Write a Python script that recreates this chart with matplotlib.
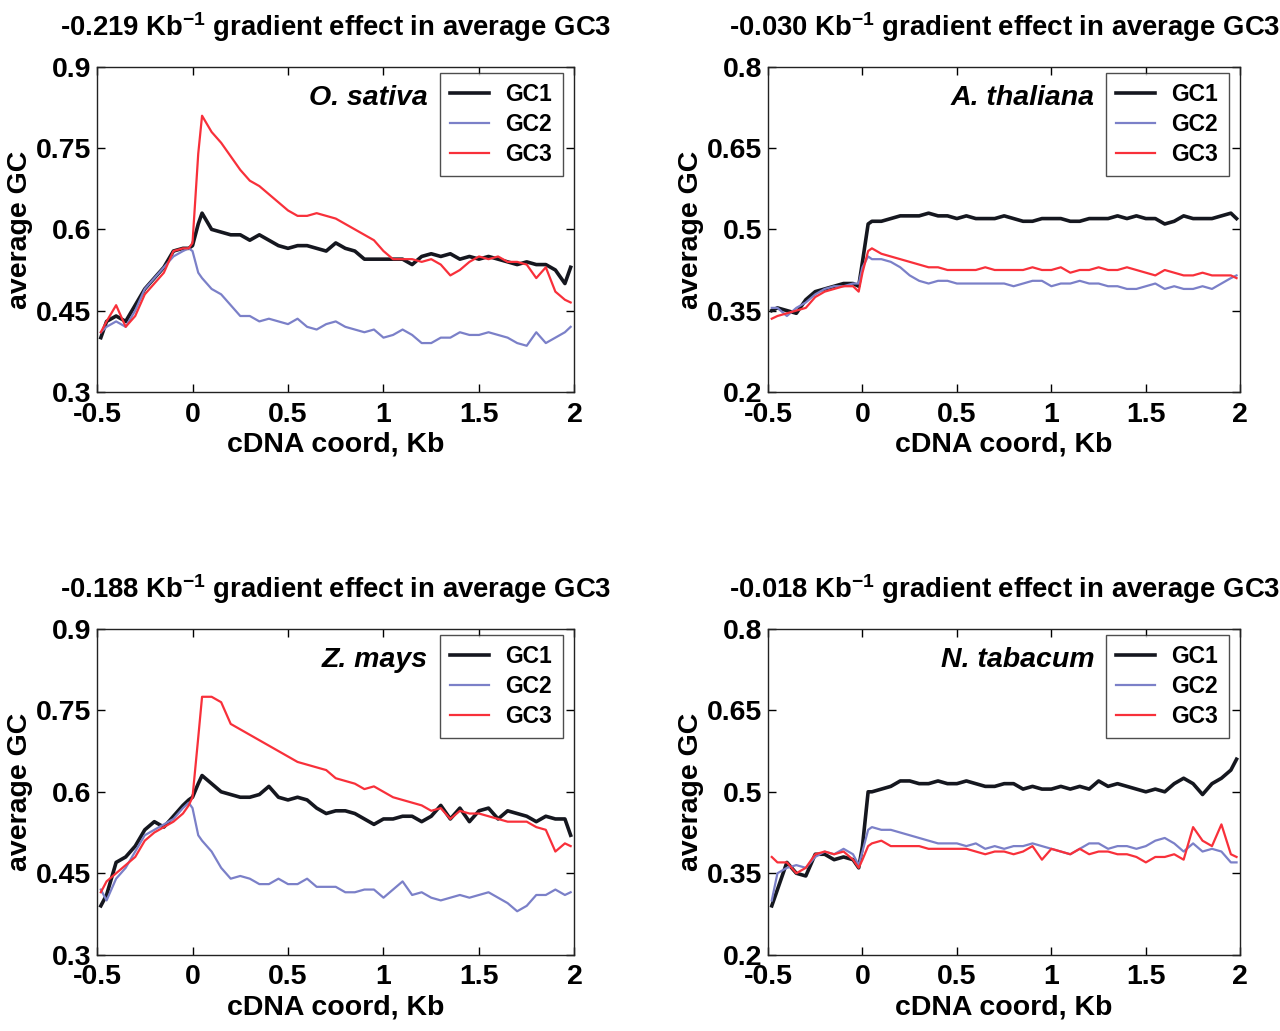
"""
Four-panel GC1/GC2/GC3 profile along cDNA coordinate, MATLAB-style look.
"""

import numpy as np
import matplotlib
matplotlib.use("Agg")
import matplotlib.pyplot as plt

plt.rcParams["font.family"] = ["Liberation Sans", "DejaVu Sans"]
plt.rcParams["font.weight"] = "bold"
plt.rcParams["mathtext.default"] = "regular"

# common x positions (Kb) at which the curves were read
X_KB = [-0.48, -0.45, -0.40, -0.35, -0.30, -0.25, -0.20, -0.15, -0.10, -0.05,
        -0.02, 0.00, 0.03, 0.05, 0.10, 0.15, 0.20, 0.25, 0.30, 0.35,
        0.40, 0.45, 0.50, 0.55, 0.60, 0.65, 0.70, 0.75, 0.80, 0.85,
        0.90, 0.95, 1.00, 1.05, 1.10, 1.15, 1.20, 1.25, 1.30, 1.35,
        1.40, 1.45, 1.50, 1.55, 1.60, 1.65, 1.70, 1.75, 1.80, 1.85,
        1.90, 1.95, 1.98]

# O. sativa
OS_GC1 = [0.40, 0.43, 0.44, 0.43, 0.46, 0.49, 0.51, 0.53, 0.56, 0.565,
          0.565, 0.57, 0.61, 0.63, 0.60, 0.595, 0.59, 0.59, 0.58, 0.59,
          0.58, 0.57, 0.565, 0.57, 0.57, 0.565, 0.56, 0.575, 0.565, 0.56,
          0.545, 0.545, 0.545, 0.545, 0.545, 0.535, 0.55, 0.555, 0.55, 0.555,
          0.545, 0.55, 0.545, 0.55, 0.545, 0.54, 0.535, 0.54, 0.535, 0.535,
          0.525, 0.50, 0.53]
OS_GC2 = [0.41, 0.42, 0.43, 0.42, 0.45, 0.49, 0.51, 0.53, 0.55, 0.56,
          0.565, 0.56, 0.52, 0.51, 0.49, 0.48, 0.46, 0.44, 0.44, 0.43,
          0.435, 0.43, 0.425, 0.435, 0.42, 0.415, 0.425, 0.43, 0.42, 0.415,
          0.41, 0.415, 0.40, 0.405, 0.415, 0.405, 0.39, 0.39, 0.40, 0.40,
          0.41, 0.405, 0.405, 0.41, 0.405, 0.40, 0.39, 0.385, 0.41, 0.39,
          0.40, 0.41, 0.42]
OS_GC3 = [0.41, 0.43, 0.46, 0.42, 0.44, 0.48, 0.50, 0.52, 0.56, 0.565,
          0.565, 0.575, 0.74, 0.81, 0.78, 0.76, 0.735, 0.71, 0.69, 0.68,
          0.665, 0.65, 0.635, 0.625, 0.625, 0.63, 0.625, 0.62, 0.61, 0.60,
          0.59, 0.58, 0.56, 0.545, 0.545, 0.545, 0.54, 0.545, 0.535, 0.515,
          0.525, 0.54, 0.55, 0.545, 0.55, 0.54, 0.54, 0.535, 0.51, 0.53,
          0.485, 0.47, 0.465]

# A. thaliana
AT_GC1 = [0.35, 0.355, 0.35, 0.345, 0.37, 0.385, 0.39, 0.395, 0.40, 0.40,
          0.395, 0.44, 0.51, 0.515, 0.515, 0.52, 0.525, 0.525, 0.525, 0.53,
          0.525, 0.525, 0.52, 0.525, 0.52, 0.52, 0.52, 0.525, 0.52, 0.515,
          0.515, 0.52, 0.52, 0.52, 0.515, 0.515, 0.52, 0.52, 0.52, 0.525,
          0.52, 0.525, 0.52, 0.52, 0.51, 0.515, 0.525, 0.52, 0.52, 0.52,
          0.525, 0.53, 0.52]
AT_GC2 = [0.355, 0.355, 0.34, 0.355, 0.365, 0.38, 0.39, 0.395, 0.395, 0.40,
          0.40, 0.43, 0.45, 0.445, 0.445, 0.44, 0.43, 0.415, 0.405, 0.40,
          0.405, 0.405, 0.40, 0.40, 0.40, 0.40, 0.40, 0.40, 0.395, 0.40,
          0.405, 0.405, 0.395, 0.40, 0.40, 0.405, 0.40, 0.40, 0.395, 0.395,
          0.39, 0.39, 0.395, 0.40, 0.39, 0.395, 0.39, 0.39, 0.395, 0.39,
          0.40, 0.41, 0.415]
AT_GC3 = [0.335, 0.34, 0.345, 0.35, 0.355, 0.375, 0.385, 0.39, 0.395, 0.395,
          0.385, 0.42, 0.46, 0.465, 0.455, 0.45, 0.445, 0.44, 0.435, 0.43,
          0.43, 0.425, 0.425, 0.425, 0.425, 0.43, 0.425, 0.425, 0.425, 0.425,
          0.43, 0.425, 0.425, 0.43, 0.42, 0.425, 0.425, 0.43, 0.425, 0.425,
          0.43, 0.425, 0.42, 0.415, 0.425, 0.42, 0.415, 0.415, 0.42, 0.415,
          0.415, 0.415, 0.41]

# Z. mays
ZM_GC1 = [0.39, 0.41, 0.47, 0.48, 0.50, 0.53, 0.545, 0.535, 0.555, 0.575,
          0.585, 0.59, 0.615, 0.63, 0.615, 0.60, 0.595, 0.59, 0.59, 0.595,
          0.61, 0.59, 0.585, 0.59, 0.585, 0.57, 0.56, 0.565, 0.565, 0.56,
          0.55, 0.54, 0.55, 0.55, 0.555, 0.555, 0.545, 0.555, 0.575, 0.55,
          0.57, 0.545, 0.565, 0.57, 0.55, 0.565, 0.56, 0.555, 0.545, 0.555,
          0.55, 0.55, 0.52]
ZM_GC2 = [0.42, 0.40, 0.44, 0.46, 0.49, 0.52, 0.53, 0.54, 0.55, 0.57,
          0.58, 0.57, 0.52, 0.51, 0.49, 0.46, 0.44, 0.445, 0.44, 0.43,
          0.43, 0.44, 0.43, 0.43, 0.44, 0.425, 0.425, 0.425, 0.415, 0.415,
          0.42, 0.42, 0.405, 0.42, 0.435, 0.41, 0.415, 0.405, 0.40, 0.405,
          0.41, 0.405, 0.41, 0.415, 0.405, 0.395, 0.38, 0.39, 0.41, 0.41,
          0.42, 0.41, 0.415]
ZM_GC3 = [0.415, 0.435, 0.45, 0.465, 0.48, 0.51, 0.525, 0.535, 0.545, 0.56,
          0.575, 0.59, 0.70, 0.775, 0.775, 0.765, 0.725, 0.715, 0.705, 0.695,
          0.685, 0.675, 0.665, 0.655, 0.65, 0.645, 0.64, 0.625, 0.62, 0.615,
          0.605, 0.61, 0.60, 0.59, 0.585, 0.58, 0.575, 0.565, 0.57, 0.55,
          0.565, 0.56, 0.56, 0.555, 0.55, 0.545, 0.545, 0.545, 0.535, 0.53,
          0.49, 0.505, 0.50]

# N. tabacum
NT_GC1 = [0.29, 0.32, 0.37, 0.35, 0.345, 0.385, 0.385, 0.375, 0.38, 0.375,
          0.36, 0.40, 0.50, 0.50, 0.505, 0.51, 0.52, 0.52, 0.515, 0.515,
          0.52, 0.515, 0.515, 0.52, 0.515, 0.51, 0.51, 0.515, 0.515, 0.505,
          0.51, 0.505, 0.505, 0.51, 0.505, 0.51, 0.505, 0.52, 0.51, 0.515,
          0.51, 0.505, 0.50, 0.505, 0.50, 0.515, 0.525, 0.515, 0.495, 0.515,
          0.525, 0.54, 0.56]
NT_GC2 = [0.30, 0.35, 0.36, 0.365, 0.36, 0.38, 0.39, 0.385, 0.395, 0.385,
          0.365, 0.39, 0.43, 0.435, 0.43, 0.43, 0.425, 0.42, 0.415, 0.41,
          0.405, 0.405, 0.405, 0.40, 0.405, 0.395, 0.40, 0.395, 0.40, 0.40,
          0.405, 0.40, 0.395, 0.39, 0.385, 0.395, 0.405, 0.405, 0.395, 0.40,
          0.40, 0.395, 0.40, 0.41, 0.415, 0.405, 0.39, 0.405, 0.39, 0.395,
          0.39, 0.37, 0.37]
NT_GC3 = [0.38, 0.37, 0.37, 0.35, 0.36, 0.385, 0.39, 0.385, 0.39, 0.375,
          0.36, 0.375, 0.40, 0.405, 0.41, 0.40, 0.40, 0.40, 0.40, 0.395,
          0.395, 0.395, 0.395, 0.395, 0.39, 0.385, 0.39, 0.39, 0.385, 0.39,
          0.40, 0.375, 0.395, 0.39, 0.385, 0.395, 0.385, 0.39, 0.39, 0.385,
          0.385, 0.38, 0.37, 0.38, 0.38, 0.385, 0.375, 0.435, 0.41, 0.40,
          0.44, 0.385, 0.38]

SPECIES = ["O. sativa", "A. thaliana", "Z. mays", "N. tabacum"]
GRADIENTS = ["-0.219", "-0.030", "-0.188", "-0.018"]
SERIES = [(OS_GC1, OS_GC2, OS_GC3), (AT_GC1, AT_GC2, AT_GC3),
          (ZM_GC1, ZM_GC2, ZM_GC3), (NT_GC1, NT_GC2, NT_GC3)]
SERIES_NAMES = ["GC1", "GC2", "GC3"]

XTICKS = [-0.5, 0, 0.5, 1, 1.5, 2]
XTICK_LABELS = ["-0.5", "0", "0.5", "1", "1.5", "2"]
YTICKS_HI = [0.3, 0.45, 0.6, 0.75, 0.9]
YTICK_LABELS_HI = ["0.3", "0.45", "0.6", "0.75", "0.9"]
YTICKS_LO = [0.2, 0.35, 0.5, 0.65, 0.8]
YTICK_LABELS_LO = ["0.2", "0.35", "0.5", "0.65", "0.8"]

COLORS = ["#15171f", "#7b80c8", "#f8303a"]
WIDTHS = [2.6, 1.6, 1.6]

# axes rectangles in figure fractions (left, bottom, width, height)
RECTS = [(0.0758, 0.620, 0.373, 0.315), (0.600, 0.620, 0.369, 0.315),
         (0.0758, 0.074, 0.373, 0.316), (0.600, 0.074, 0.369, 0.316)]

FS = 20.5

fig = plt.figure(figsize=(12.8, 10.31), dpi=100)
x = np.array(X_KB)

for i in range(4):
    ax = fig.add_axes(RECTS[i])
    for s, name, c, lw in zip(SERIES[i], SERIES_NAMES, COLORS, WIDTHS):
        ax.plot(x, s, color=c, lw=lw, label=name)

    ax.set_xlim(-0.5, 2.0)
    if i in (0, 2):
        ax.set_ylim(0.3, 0.9)
        ax.set_yticks(YTICKS_HI, labels=YTICK_LABELS_HI)
    else:
        ax.set_ylim(0.2, 0.8)
        ax.set_yticks(YTICKS_LO, labels=YTICK_LABELS_LO)
    ax.set_xticks(XTICKS, labels=XTICK_LABELS)

    ax.tick_params(direction="in", length=6, width=1, top=True, right=True,
                   labelsize=FS)
    ax.tick_params(axis="x", pad=7)
    ax.tick_params(axis="y", pad=4)
    for sp in ax.spines.values():
        sp.set_linewidth(1.0)
        sp.set_color("#222222")

    ax.set_xlabel("cDNA coord, Kb", fontsize=FS, fontweight="bold", labelpad=3)
    ax.set_ylabel("average GC", fontsize=FS, fontweight="bold", labelpad=2)
    ax.set_title(GRADIENTS[i] + " Kb$^{-1}$ gradient effect in average GC3",
                 fontsize=19.8, fontweight="bold", pad=22)

    ax.text(0.692, 0.905, SPECIES[i], transform=ax.transAxes, ha="right",
            va="center", fontsize=FS, fontweight="bold", style="italic")

    leg = ax.legend(loc="upper right", bbox_to_anchor=(0.975, 0.982),
                    borderaxespad=0, fontsize=16.5, frameon=True, fancybox=False,
                    handlelength=1.7, handletextpad=0.7, borderpad=0.45,
                    labelspacing=0.3)
    leg.get_frame().set_edgecolor("#222222")
    leg.get_frame().set_linewidth(1.0)

fig.savefig("out.png", dpi=100, facecolor="white")
